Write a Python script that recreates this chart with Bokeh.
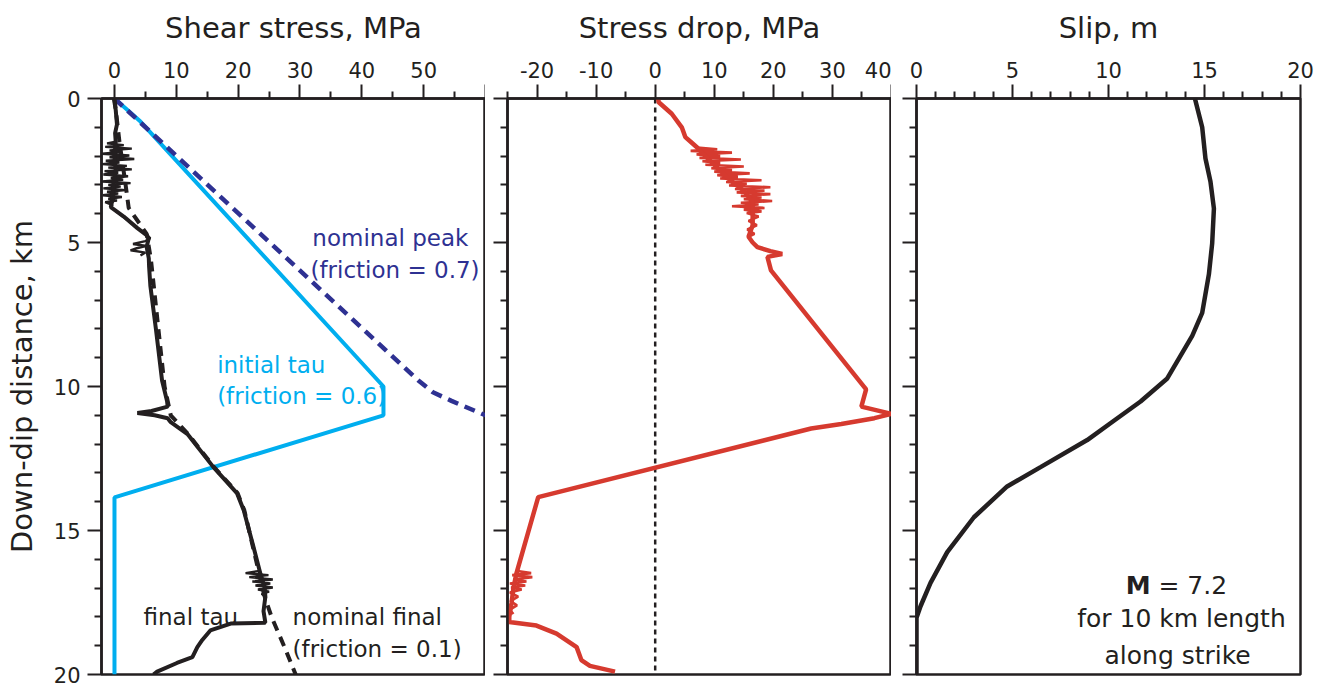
from bokeh.plotting import figure
from bokeh.models import Range1d, FixedTicker, Label
from bokeh.layouts import row
from bokeh.embed import file_html
from bokeh.resources import INLINE

# ---------------- data ----------------
# Panel 1: shear stress (MPa) vs down-dip distance (km)
init_depth = [0.0, 0.8, 10.0, 11.0, 13.85, 20.0]
init_tau = [0.0, 4.2, 43.5, 43.5, 0.0, 0.0]

peak_depth = [0.0, 9.8, 10.2, 10.5, 11.0]
peak_tau = [0.0, 49.2, 51.5, 54.5, 60.0]

# final tau, main trace
final_depth = [0.0, 0.4, 0.9, 1.2, 1.5, 2.0, 2.5, 3.0, 3.5, 3.77, 4.1, 4.5, 4.76,
               4.9, 5.15, 5.55, 5.85, 6.5, 8.0, 9.8, 10.5, 10.7, 10.85, 10.92, 11.0,
               11.1, 11.24, 11.65, 12.8, 13.7, 14.3, 15.5, 16.5, 17.0, 17.3, 17.8,
               18.2, 18.23, 18.47, 18.8, 19.05, 19.4, 19.6, 19.9, 20.0]
final_tau = [-0.1, 0.2, 0.4, 0.1, 0.2, 0.0, 0.2, -0.2, -0.3, -0.6, 1.5, 3.7, 5.3,
             5.5, 5.2, 5.55, 5.6, 5.8, 6.7, 7.7, 8.5, 8.6, 6.0, 3.7, 6.5,
             8.6, 9.1, 11.8, 16.0, 19.8, 20.9, 22.4, 23.6, 24.3, 24.4, 24.1,
             24.4, 18.8, 15.5, 14.2, 13.4, 12.6, 10.1, 6.9, 6.3]
# final tau, jagged excursions
final_jag_depth = [1.50, 1.56, 1.62, 1.68, 1.74, 1.80, 1.86, 1.92, 1.98, 2.04, 2.10,
                   2.16, 2.22, 2.28, 2.34, 2.40, 2.46, 2.52, 2.58, 2.64, 2.70, 2.76,
                   2.82, 2.88, 2.94, 3.00, 3.06, 3.12, 3.18, 3.24, 3.30, 3.36, 3.42,
                   3.48, 3.54, 3.60, 3.70, 3.77, 4.76, 4.85, 4.95, 5.05, 5.12, 5.2,
                   5.27, 5.35, 5.45]
final_jag_tau = [0.2, -1.2, 1.5, -1.5, 2.8, -0.8, 1.2, -2.0, 2.4, -0.8, 3.2,
                 -1.4, 0.8, -2.0, 2.0, -1.0, 2.8, -1.6, 0.6, -1.8, 2.2, -0.6,
                 1.4, -2.0, 2.6, -1.0, 1.0, -1.8, 1.8, -1.2, 0.6, -1.9, 1.2,
                 -1.0, 0.4, -1.5, -0.3, -0.6, 5.3, 5.8, 5.0, 3.0, 5.2, 3.6,
                 2.6, 5.0, 4.2]
final_jag2_depth = [16.40, 16.48, 16.55, 16.62, 16.70, 16.77, 16.84, 16.91, 16.98,
                    17.05, 17.12, 17.2, 17.3]
final_jag2_tau = [23.5, 21.2, 24.9, 21.8, 25.6, 22.3, 25.2, 22.8, 25.6, 23.2,
                  25.0, 23.8, 24.4]

nomfinal_depth = [0.0, 1.5, 3.0, 3.8, 4.7, 5.6, 10.0, 11.0, 11.65, 12.8, 13.7, 14.3,
                  16.5, 17.3, 18.0, 19.0, 20.0]
nomfinal_tau = [0.0, 0.8, 1.8, 2.3, 5.2, 5.9, 8.1, 9.1, 11.9, 16.1, 19.9, 21.0,
                23.4, 24.3, 25.4, 27.4, 29.3]

# Panel 2: stress drop (MPa), main trace
drop_depth = [0.0, 0.13, 0.53, 1.0, 1.34, 1.5, 1.7, 2.0, 2.4, 2.8, 3.2, 3.6, 4.0,
              4.4, 4.8, 5.0, 5.16, 5.3, 5.4, 5.5, 5.97, 10.02, 10.1, 10.7, 10.95,
              11.1, 11.3, 11.46, 13.84, 16.5, 17.0, 17.5, 18.0, 18.18, 18.3, 18.58,
              19.05, 19.5, 19.7, 19.9]
drop_val = [0.5, 0.6, 2.8, 4.5, 5.1, 6.0, 7.1, 8.5, 10.5, 12.5, 15.0, 16.5, 16.5,
            16.5, 15.8, 16.5, 17.3, 19.5, 21.5, 19.0, 19.6, 35.4, 35.7, 34.9, 40.0,
            37.1, 31.5, 26.4, -19.8, -23.5, -24.0, -24.3, -24.7, -24.7, -20.1, -16.7,
            -13.3, -12.5, -11.05, -6.8]
# stress drop, jagged excursions
drop_jag_depth = [1.70, 1.76, 1.82, 1.88, 1.94, 2.00, 2.06, 2.12, 2.18, 2.24, 2.30,
                  2.36, 2.42, 2.48, 2.54, 2.60, 2.66, 2.72, 2.78, 2.84, 2.90, 2.96,
                  3.02, 3.08, 3.14, 3.20, 3.26, 3.32, 3.38, 3.44, 3.50, 3.56, 3.62,
                  3.68, 3.74, 3.80, 3.86, 3.92, 3.98, 4.10, 4.25, 4.40, 4.55, 4.70,
                  4.80]
drop_jag_val = [7.1, 10.5, 6.0, 13.0, 7.0, 11.0, 7.5, 14.5, 8.0, 11.0, 8.5,
                15.0, 9.5, 13.0, 10.0, 16.0, 10.5, 14.0, 11.0, 18.0, 12.0, 15.5,
                12.5, 19.5, 13.5, 18.5, 13.8, 19.5, 14.5, 18.0, 15.0, 19.8, 14.5,
                17.5, 13.0, 18.5, 15.0, 18.0, 15.5, 17.5, 15.8, 17.2, 15.6, 16.8,
                15.8]
drop_jag2_depth = [16.40, 16.48, 16.55, 16.62, 16.70, 16.77, 16.84, 16.91, 16.98,
                   17.05, 17.15, 17.3, 17.45, 17.6, 17.75, 17.9]
drop_jag2_val = [-23.6, -21.0, -24.2, -20.8, -24.0, -21.8, -24.6, -22.0, -24.4,
                 -22.6, -24.6, -23.2, -24.5, -23.4, -24.6, -24.0]

# Panel 3: slip (m)
slip_depth = [0.0, 1.0, 2.08, 2.88, 3.82, 5.03, 6.1, 7.44, 8.24, 9.72, 10.52, 11.19,
              11.86, 12.8, 13.47, 14.54, 15.75, 16.82, 17.63, 18.03, 20.0]
slip_val = [14.5, 14.88, 15.05, 15.31, 15.49, 15.4, 15.23, 14.88, 14.36, 13.06,
            11.67, 10.28, 8.89, 6.46, 4.72, 2.99, 1.6, 0.73, 0.21, 0.0, 0.0]

depth_major = [0, 5, 10, 15, 20]
depth_minor = [d for d in range(0, 21) if d % 5 != 0]

# ---------------- styling ----------------
INK = "#231f20"
CYAN = "#00aeef"
NAVY = "#2e3192"
RED = "#d63a2f"
FONT = "DejaVu Sans"


def make_fig(xr, left_border, right_border, xmajor, xminor, title, ylabels=False,
             overrides=None):
    p = figure(x_range=Range1d(*xr), y_range=Range1d(20, 0),
               frame_width=384, frame_height=576,
               x_axis_location="above", output_backend="svg",
               toolbar_location=None,
               min_border_left=left_border, min_border_right=right_border,
               min_border_top=98, min_border_bottom=13)
    p.grid.visible = False
    p.outline_line_color = INK
    p.outline_line_width = 2.5
    p.outline_line_alpha = 1.0
    p.background_fill_color = "white"
    p.border_fill_color = "white"

    xa = p.xaxis[0]
    xa.ticker = FixedTicker(ticks=xmajor, minor_ticks=xminor)
    if overrides:
        xa.major_label_overrides = overrides
    xa.axis_label = title
    ya = p.yaxis[0]
    ya.ticker = FixedTicker(ticks=depth_major, minor_ticks=depth_minor)
    if ylabels:
        ya.axis_label = "Down-dip distance, km"
    else:
        ya.major_label_overrides = {d: "" for d in depth_major}
    for ax in (xa, ya):
        ax.axis_line_color = INK
        ax.axis_line_width = 2.5
        ax.major_tick_line_color = INK
        ax.minor_tick_line_color = INK
        ax.major_tick_line_width = 2
        ax.minor_tick_line_width = 2
        ax.major_tick_out = 14
        ax.major_tick_in = 0
        ax.minor_tick_out = 7
        ax.minor_tick_in = 0
        ax.major_label_text_font = FONT
        ax.major_label_text_font_size = "21px"
        ax.major_label_text_color = INK
        ax.axis_label_text_font = FONT
        ax.axis_label_text_font_size = "29px"
        ax.axis_label_text_font_style = "normal"
        ax.axis_label_text_color = INK
    xa.major_label_standoff = 7
    xa.axis_label_standoff = 14
    ya.major_label_standoff = 7
    ya.axis_label_standoff = 12
    return p


def add_label(p, x, y, text, color, size, align="left", baseline="middle", style="normal"):
    p.add_layout(Label(x=x, y=y, text=text, text_color=color, text_font=FONT,
                       text_font_size=size, text_align=align, text_baseline=baseline,
                       text_font_style=style))


# Panel 1
p1 = make_fig((-2.1, 60), 101, 0, [0, 10, 20, 30, 40, 50, 60],
              [5, 15, 25, 35, 45, 55], "Shear stress, MPa", ylabels=True,
              overrides={60: ""})
p1.line(init_tau, init_depth, line_color=CYAN, line_width=4)
p1.line(peak_tau, peak_depth, line_color=NAVY, line_width=4.5, line_dash="11 7")
p1.line(final_jag_tau, final_jag_depth, line_color=INK, line_width=2.4)
p1.line(final_jag2_tau, final_jag2_depth, line_color=INK, line_width=2.4)
p1.line(final_tau, final_depth, line_color=INK, line_width=4)
p1.line(nomfinal_tau, nomfinal_depth, line_color=INK, line_width=4, line_dash="10 7")
add_label(p1, 32.0, 4.83, "nominal peak", NAVY, "23px")
add_label(p1, 31.7, 5.95, "(friction = 0.7)", NAVY, "23px")
add_label(p1, 16.6, 9.27, "initial tau", CYAN, "23px")
add_label(p1, 16.6, 10.33, "(friction = 0.6)", CYAN, "23px")
add_label(p1, 4.7, 18.0, "final tau", INK, "23px")
add_label(p1, 28.8, 18.0, "nominal final", INK, "23px")
add_label(p1, 28.8, 19.1, "(friction = 0.1)", INK, "23px")

# Panel 2
p2 = make_fig((-25, 40), 22, 0, [-20, -10, 0, 10, 20, 30, 40],
              [-25, -15, -5, 5, 15, 25, 35], "Stress drop, MPa",
              overrides={-20: "-20", -10: "-10"})
p2.line([0, 0], [0, 20], line_color=INK, line_width=2.5, line_dash="5 4")
p2.line(drop_jag_val, drop_jag_depth, line_color=RED, line_width=2.6)
p2.line(drop_jag2_val, drop_jag2_depth, line_color=RED, line_width=2.6)
p2.line(drop_val, drop_depth, line_color=RED, line_width=4.5)

# Panel 3
p3 = make_fig((0, 20), 25, 30, [0, 5, 10, 15, 20],
              [m for m in range(0, 21) if m % 5 != 0], "Slip, m")
p3.line(slip_val, slip_depth, line_color=INK, line_width=4.5)
add_label(p3, 12.19, 16.9, "M", INK, "25px", align="right", baseline="alphabetic", style="bold")
add_label(p3, 12.6, 16.9, "= 7.2", INK, "25px", align="left", baseline="alphabetic")
add_label(p3, 13.8, 18.06, "for 10 km length", INK, "25px", align="center", baseline="alphabetic")
add_label(p3, 13.6, 19.34, "along strike", INK, "25px", align="center", baseline="alphabetic")

layout = row(p1, p2, p3, spacing=0)
open("out.html", "w").write(file_html(layout, INLINE))
